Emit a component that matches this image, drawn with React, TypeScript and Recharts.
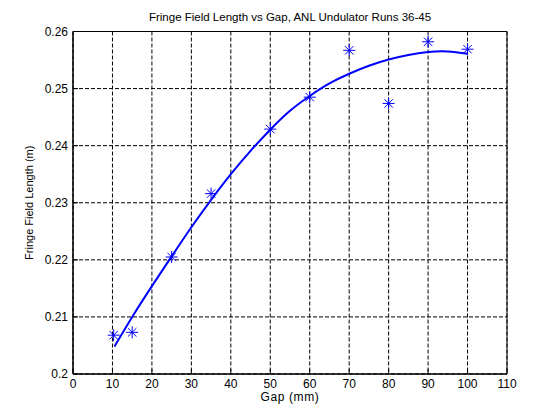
import React from 'react';
import { ScatterChart, Scatter, XAxis, YAxis, CartesianGrid, ReferenceArea, Label } from 'recharts';

const gapMeasured = [10.3, 15, 25, 35, 50, 60, 70, 80, 90, 100];
const lengthMeasured = [0.2068, 0.2073, 0.2205, 0.2316, 0.2429, 0.2485, 0.2567, 0.2474, 0.2582, 0.2569];

const gapFit = [10.5, 15, 20, 25, 30, 35, 40, 45, 50, 55, 60, 65, 70, 75, 80, 85, 90, 95, 100];
const lengthFit = [0.2048, 0.2100, 0.2154, 0.2206, 0.2257, 0.2305, 0.2350, 0.2391, 0.2428, 0.2461, 0.2487, 0.2509, 0.2526, 0.2540, 0.2551, 0.2559, 0.2564, 0.2565, 0.2561];

const xTicks = [0, 10, 20, 30, 40, 50, 60, 70, 80, 90, 100, 110];
const yTicks = [0.2, 0.21, 0.22, 0.23, 0.24, 0.25, 0.26];
const yTickLabels = ['0.2', '0.21', '0.22', '0.23', '0.24', '0.25', '0.26'];

const titleText = 'Fringe Field Length vs Gap, ANL Undulator Runs 36-45';
const xLabelText = 'Gap (mm)';
const yLabelText = 'Fringe Field Length (m)';

const measured = gapMeasured.map((x, i) => ({ x, y: lengthMeasured[i] }));
const fit = gapFit.map((x, i) => ({ x, y: lengthFit[i] }));

const BLUE = '#0000ff';
const FONT = '"Liberation Sans", Arial, sans-serif';

const StarMark = (props: any) => {
  const { cx, cy } = props;
  if (cx == null || cy == null) return <g />;
  const a = 6;
  const d = 4.2;
  return (
    <g stroke={BLUE} strokeWidth={1}>
      <line x1={cx - a} y1={cy} x2={cx + a} y2={cy} />
      <line x1={cx} y1={cy - a} x2={cx} y2={cy + a} />
      <line x1={cx - d} y1={cy - d} x2={cx + d} y2={cy + d} />
      <line x1={cx - d} y1={cy + d} x2={cx + d} y2={cy - d} />
    </g>
  );
};

const NoMark = () => <g />;

const YLabel = (props: any) => {
  const vb = props.viewBox || {};
  const cx = (vb.x || 0) + 33;
  const cy = (vb.y || 0) + (vb.height || 0) / 2;
  return (
    <text
      x={cx}
      y={cy}
      transform={`rotate(-90, ${cx}, ${cy})`}
      textAnchor="middle"
      fontSize={11}
      fill="#000"
      fontFamily={FONT}
    >
      {yLabelText}
    </text>
  );
};

export default function App() {
  return (
    <div style={{ position: 'absolute', left: 0, top: 0, background: '#fff' }}>
      <ScatterChart
        width={560}
        height={420}
        margin={{ top: 31.5, right: 53, bottom: 0, left: 0 }}
        style={{ fontFamily: FONT }}
      >
        <CartesianGrid stroke="#000" strokeDasharray="4 2" strokeWidth={1} />
        <XAxis
          type="number"
          dataKey="x"
          domain={[0, 110]}
          ticks={xTicks}
          interval={0}
          height={46}
          tickSize={-5}
          tickMargin={10}
          axisLine={{ stroke: '#000' }}
          tickLine={{ stroke: '#000' }}
          tick={{ fontSize: 12, fill: '#000' }}
        >
          <Label value={xLabelText} position="insideBottom" offset={19} fontSize={12} letterSpacing={0.6} fill="#000" />
        </XAxis>
        <YAxis
          type="number"
          dataKey="y"
          domain={[0.2, 0.26]}
          ticks={yTicks}
          interval={0}
          width={73}
          tickSize={-5}
          tickMargin={10}
          tickFormatter={(v: number) => yTickLabels[yTicks.indexOf(v)] ?? String(v)}
          axisLine={{ stroke: '#000' }}
          tickLine={{ stroke: '#000' }}
          tick={{ fontSize: 12, fill: '#000' }}
        >
          <Label content={<YLabel />} />
        </YAxis>
        <ReferenceArea x1={0} x2={110} y1={0.2} y2={0.26} fill="none" stroke="#000" strokeWidth={1}>
          <Label value={titleText} position="top" offset={10.5} fontSize={11.5} fill="#000" />
        </ReferenceArea>
        <Scatter
          data={fit}
          line={{ stroke: BLUE, strokeWidth: 2 }}
          lineJointType="natural"
          shape={NoMark}
          isAnimationActive={false}
        />
        <Scatter data={measured} shape={StarMark} isAnimationActive={false} />
      </ScatterChart>
    </div>
  );
}
